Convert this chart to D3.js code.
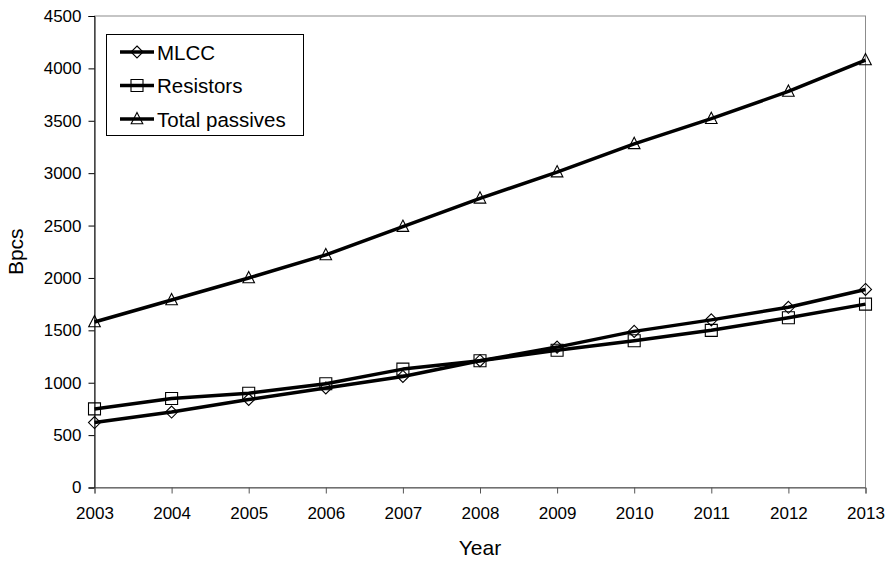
<!DOCTYPE html>
<html>
<head>
<meta charset="utf-8">
<script src="https://cdn.jsdelivr.net/npm/d3@7"></script>
<style>
  body { margin: 0; background: #fff; }
  svg { display: block; font-family: "Liberation Sans", Arial, sans-serif; }
</style>
</head>
<body>
<svg id="chart" width="892" height="561"></svg>
<script>
// Years on the x axis
const years = [2003, 2004, 2005, 2006, 2007, 2008, 2009, 2010, 2011, 2012, 2013];
// Production volumes in billions of pieces
const mlcc = [620, 720, 840, 950, 1060, 1210, 1340, 1490, 1600, 1720, 1890];
const resistors = [750, 850, 900, 990, 1130, 1210, 1310, 1400, 1500, 1620, 1750];
const totalPassives = [1580, 1790, 2000, 2220, 2490, 2760, 3010, 3280, 3520, 3780, 4080];
const yTicks = [0, 500, 1000, 1500, 2000, 2500, 3000, 3500, 4000, 4500];
const seriesNames = ["MLCC", "Resistors", "Total passives"];
const seriesShapes = ["diamond", "square", "triangle"];

const series = [mlcc, resistors, totalPassives].map((vals, i) => ({
  name: seriesNames[i],
  shape: seriesShapes[i],
  values: vals.map((v, j) => ({ year: years[j], value: v }))
}));

const svg = d3.select("#chart");
const plotLeft = 94.5, plotRight = 865.5, plotTop = 16, plotBottom = 487.5;

const x = d3.scaleLinear().domain([2003, 2013]).range([plotLeft, plotRight]);
const y = d3.scaleLinear().domain([0, 4500]).range([plotBottom, plotTop]);

// Plot frame (top and right edges)
svg.append("rect")
  .attr("x", plotLeft).attr("y", plotTop)
  .attr("width", plotRight - plotLeft).attr("height", plotBottom - plotTop)
  .attr("fill", "none").attr("stroke", "#8c8c8c").attr("stroke-width", 1);

// Y axis
const yAxis = svg.append("g")
  .attr("transform", `translate(${plotLeft},0)`)
  .call(d3.axisLeft(y).tickValues(yTicks).tickSize(6).tickPadding(7).tickFormat(d3.format("d")));
yAxis.select(".domain").attr("stroke", "#000");
yAxis.selectAll(".tick line").attr("stroke", "#000");
yAxis.selectAll("text").attr("font-size", 17).attr("fill", "#000")
  .attr("font-family", "Liberation Sans, Arial, sans-serif");

// X axis
const xAxis = svg.append("g")
  .attr("transform", `translate(0,${plotBottom})`)
  .call(d3.axisBottom(x).tickValues(years).tickSize(6).tickPadding(13).tickFormat(d3.format("d")));
xAxis.select(".domain").attr("stroke", "#555");
xAxis.selectAll(".tick line").attr("stroke", "#555");
xAxis.selectAll("text").attr("font-size", 17).attr("fill", "#000")
  .attr("font-family", "Liberation Sans, Arial, sans-serif");

// Axis titles
svg.append("text")
  .attr("transform", `translate(23,${(plotTop + plotBottom) / 2}) rotate(-90)`)
  .attr("text-anchor", "middle")
  .attr("font-size", 21)
  .text("Bpcs");
svg.append("text")
  .attr("x", (plotLeft + plotRight) / 2).attr("y", 555)
  .attr("text-anchor", "middle")
  .attr("font-size", 21)
  .text("Year");

// Marker shapes
function markerPath(shape) {
  if (shape === "diamond") return "M0,-6L6,0L0,6L-6,0Z";
  if (shape === "square") return "M-6,-6H6V6H-6Z";
  return "M0,-6.5L5.8,4.8H-5.8Z";
}

const line = d3.line().x(d => x(d.year)).y(d => y(d.value));

const g = svg.append("g");
series.forEach(s => {
  g.append("path")
    .datum(s.values)
    .attr("d", line)
    .attr("fill", "none")
    .attr("stroke", "#000")
    .attr("stroke-width", 3.5)
    .attr("stroke-linejoin", "round");
  g.selectAll(null)
    .data(s.values)
    .enter().append("path")
    .attr("transform", d => `translate(${x(d.year)},${y(d.value)})`)
    .attr("d", markerPath(s.shape))
    .attr("fill", "none")
    .attr("stroke", "#000")
    .attr("stroke-width", 1.1);
});

// Legend
const legend = svg.append("g");
legend.append("rect")
  .attr("x", 106.5).attr("y", 34.5).attr("width", 197).attr("height", 101)
  .attr("fill", "#fff").attr("stroke", "#000").attr("stroke-width", 1);
series.forEach((s, i) => {
  const ly = 52 + i * 33.5;
  legend.append("line")
    .attr("x1", 120).attr("x2", 154).attr("y1", ly).attr("y2", ly)
    .attr("stroke", "#000").attr("stroke-width", 3.5);
  legend.append("path")
    .attr("transform", `translate(137,${ly})`)
    .attr("d", markerPath(s.shape))
    .attr("fill", "none").attr("stroke", "#000").attr("stroke-width", 1.1);
  legend.append("text")
    .attr("x", 157).attr("y", ly + 7.5)
    .attr("font-size", 20.5)
    .text(s.name);
});
</script>
</body>
</html>
